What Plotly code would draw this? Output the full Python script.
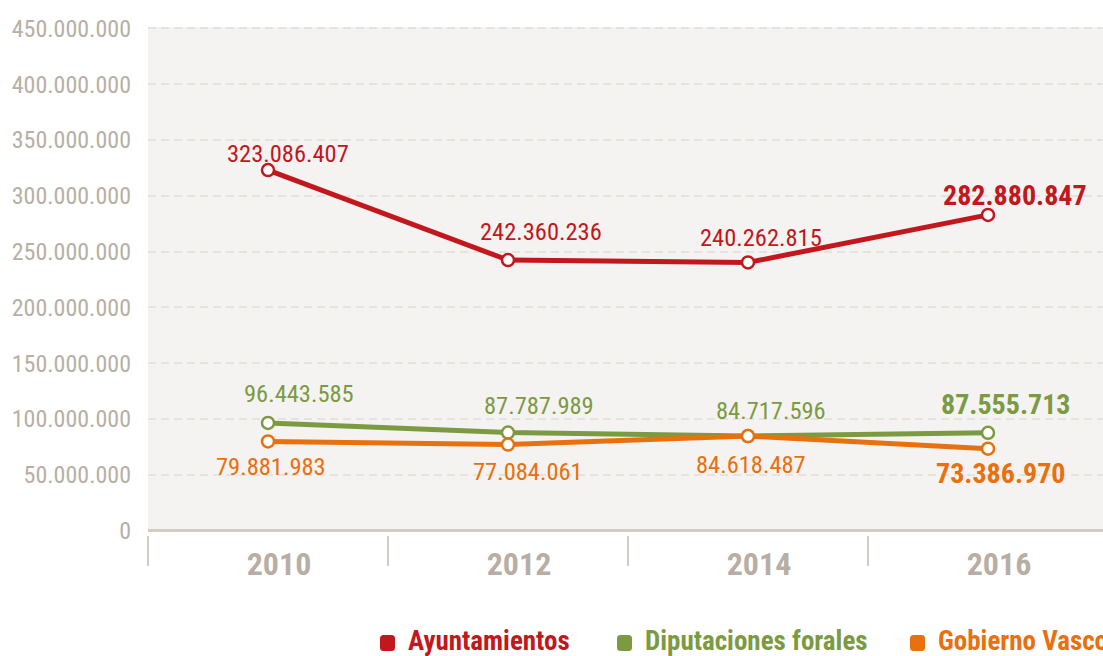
import plotly.graph_objects as go

years = ["2010", "2012", "2014", "2016"]
series_names = ["Ayuntamientos", "Diputaciones forales", "Gobierno Vasco"]
ayuntamientos = [323086407, 242360236, 240262815, 282880847]
diputaciones = [96443585, 87787989, 84717596, 87555713]
gobierno = [79881983, 77084061, 84618487, 73386970]
y_ticks = [0, 50e6, 100e6, 150e6, 200e6, 250e6, 300e6, 350e6, 400e6, 450e6]

colors = ["#c1171d", "#7b9a42", "#e8700f"]
values = [ayuntamientos, diputaciones, gobierno]
# label pixel offsets (style only)
xshifts = [[20, 33, 13, 27], [31, 31, 23, 17], [3, 20, 3, 12]]
yshifts = [[17, 29, 25, 19], [29, 27, 26, 28], [-25, -27, -28, -25]]

FONT = "Roboto Condensed, Liberation Sans Narrow, sans-serif"
GRAY = "#b7afa4"

def fmt(v):
    return f"{v:,}".replace(",", ".")

fig = go.Figure()
annotations = []
for name, vals, col, xs, ys in zip(series_names, values, colors, xshifts, yshifts):
    fig.add_trace(go.Scatter(
        x=years, y=vals, mode="lines+markers", name=name, showlegend=False,
        line=dict(color=col, width=5),
        marker=dict(size=12, color="white", line=dict(color=col, width=2.5)),
        cliponaxis=False,
    ))
    for i, v in enumerate(vals):
        last = i == len(years) - 1
        annotations.append(dict(
            x=i, y=v, xref="x", yref="y", text=(f"<b>{fmt(v)}</b>" if last else fmt(v)),
            showarrow=False, xshift=xs[i], yshift=ys[i], xanchor="center", yanchor="middle",
            font=dict(family=FONT, size=28 if last else 24.5, color=col),
        ))

# custom legend (single row, clipped by the page edge like the original)
W, L, B, T, H = 1103, 148, 121, 27, 656
plot_w = W - L
plot_h = H - T - B
def px_x(p):
    return (p - L) / plot_w
def px_y(p):
    return (H - B - p) / plot_h

def rounded_rect(x0, y0, x1, y1, r):
    pts = [
        f"M {px_x(x0 + r)},{px_y(y0)}",
        f"L {px_x(x1 - r)},{px_y(y0)}",
        f"Q {px_x(x1)},{px_y(y0)} {px_x(x1)},{px_y(y0 + r)}",
        f"L {px_x(x1)},{px_y(y1 - r)}",
        f"Q {px_x(x1)},{px_y(y1)} {px_x(x1 - r)},{px_y(y1)}",
        f"L {px_x(x0 + r)},{px_y(y1)}",
        f"Q {px_x(x0)},{px_y(y1)} {px_x(x0)},{px_y(y1 - r)}",
        f"L {px_x(x0)},{px_y(y0 + r)}",
        f"Q {px_x(x0)},{px_y(y0)} {px_x(x0 + r)},{px_y(y0)} Z",
    ]
    return " ".join(pts)

leg_x = [380, 617, 910]
shapes = []
for name, col, lx in zip(series_names, colors, leg_x):
    shapes.append(dict(type="path", xref="paper", yref="paper",
                       path=rounded_rect(lx, 635, lx + 15, 651, 3.5),
                       fillcolor=col, line=dict(width=0)))
    annotations.append(dict(x=px_x(lx + 26), y=px_y(641), xref="paper", yref="paper",
                            text=f"<b>{name}</b>", showarrow=False, xanchor="left", yanchor="middle",
                            font=dict(family=FONT, size=27, color=col)))

ymax = 451.3e6
ymin = -4.0e6
shapes.insert(0, dict(type="rect", xref="paper", yref="y", x0=0, x1=1, y0=0, y1=ymax,
                      fillcolor="#f5f3f1", line=dict(width=0), layer="below"))

fig.update_layout(
    width=W, height=H, autosize=False,
    margin=dict(l=L, r=0, t=T, b=B, pad=0),
    paper_bgcolor="white", plot_bgcolor="rgba(0,0,0,0)",
    font=dict(family=FONT, color=GRAY),
    shapes=shapes, annotations=annotations,
    xaxis=dict(type="category", range=[-0.5, -0.5 + plot_w / 240], tickson="boundaries",
               ticks="outside", ticklen=30, tickwidth=2, tickcolor="#d3ccc2",
               showgrid=False, showline=False, zeroline=False, automargin=False,
               tickfont=dict(family=FONT, size=32, color=GRAY),
               tickprefix="<b>", ticksuffix="</b>",
               ticklabelstandoff=7, ticklabelshift=11),
    yaxis=dict(range=[ymin, ymax], tickmode="array", tickvals=y_ticks,
               ticktext=[fmt(int(v)) for v in y_ticks], automargin=False,
               showgrid=True, gridcolor="#e6e2dc", gridwidth=2, griddash="8px,5px",
               zeroline=True, zerolinecolor="#d3ccc2", zerolinewidth=3,
               showline=False, ticks="", ticklabelstandoff=16,
               tickfont=dict(family=FONT, size=24, color=GRAY)),
)

fig.write_html("out.html", config={"displayModeBar": False},
               post_script="document.body.style.margin='0';document.body.style.overflow='hidden';")
